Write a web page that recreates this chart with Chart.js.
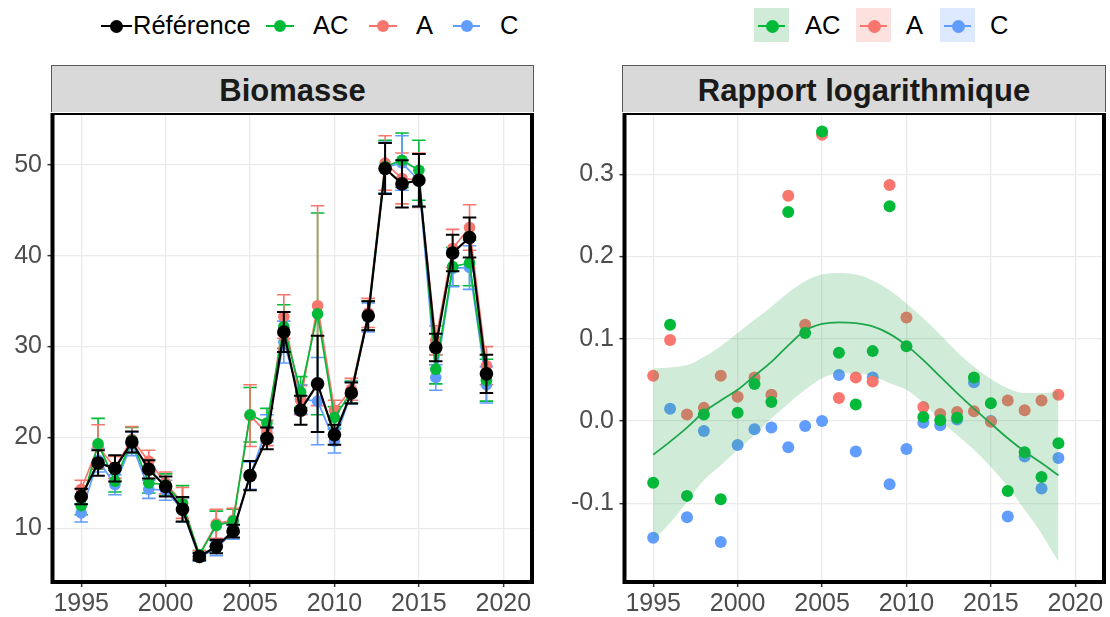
<!DOCTYPE html>
<html>
<head>
<meta charset="utf-8">
<script src="https://cdn.jsdelivr.net/npm/chart.js@4.4.1/dist/chart.umd.min.js"></script>
<style>
  html, body { margin: 0; padding: 0; background: #fff; width: 1110px; height: 617px; overflow: hidden;
    font-family: "Liberation Sans", Arial, Helvetica, sans-serif; }
  canvas { position: absolute; }
  .strip { position: absolute; top: 65px; height: 47px; background: #d9d9d9; border: 1.5px solid #595959;
    border-bottom: none; box-sizing: border-box; }
  .strip span { position: absolute; left: 0; right: 0; top: 9px; text-align: center; font-weight: bold;
    font-size: 31px; line-height: 31px; color: #1a1a1a; }
  .lt { position: absolute; top: 12px; font-size: 25.5px; line-height: 26px; color: #000; white-space: nowrap; }
  .ln { position: absolute; height: 2px; top: 25px; }
  .dot { position: absolute; border-radius: 50%; }
  .box { position: absolute; top: 8px; width: 35px; height: 34px; }
</style>
</head>
<body>
<!-- top-left legend -->
<div class="ln" style="left:101px;width:31px;background:#000"></div>
<div class="dot" style="left:110px;top:19.5px;width:13px;height:13px;background:#000"></div>
<div class="lt" style="left:133px">Référence</div>
<div class="ln" style="left:266px;width:28px;background:#00BA38"></div>
<div class="dot" style="left:274px;top:20px;width:12px;height:12px;background:#00BA38"></div>
<div class="lt" style="left:313px">AC</div>
<div class="ln" style="left:369px;width:28px;background:#F8766D"></div>
<div class="dot" style="left:377px;top:20px;width:12px;height:12px;background:#F8766D"></div>
<div class="lt" style="left:416px">A</div>
<div class="ln" style="left:453px;width:27px;background:#619CFF"></div>
<div class="dot" style="left:460.5px;top:20px;width:12px;height:12px;background:#619CFF"></div>
<div class="lt" style="left:500px">C</div>

<!-- top-right legend -->
<div class="box" style="left:754px;background:rgba(40,170,80,0.22)"></div>
<div class="ln" style="left:758px;width:27px;background:#00BA38"></div>
<div class="dot" style="left:765.5px;top:19.5px;width:13px;height:13px;background:#00BA38"></div>
<div class="lt" style="left:805px">AC</div>
<div class="box" style="left:856px;background:rgba(248,118,109,0.22)"></div>
<div class="ln" style="left:860px;width:27px;background:#F8766D"></div>
<div class="dot" style="left:867.5px;top:19.5px;width:13px;height:13px;background:#F8766D"></div>
<div class="lt" style="left:906px">A</div>
<div class="box" style="left:940px;background:rgba(97,156,255,0.22)"></div>
<div class="ln" style="left:944px;width:27px;background:#619CFF"></div>
<div class="dot" style="left:951.5px;top:19.5px;width:13px;height:13px;background:#619CFF"></div>
<div class="lt" style="left:990px">C</div>

<div class="strip" style="left:51px;width:483px"><span>Biomasse</span></div>
<div class="strip" style="left:622px;width:484px"><span>Rapport logarithmique</span></div>

<canvas id="bio" width="540" height="504" style="left:0;top:113px;width:540px;height:504px"></canvas>
<canvas id="ratio" width="540" height="504" style="left:570px;top:113px;width:540px;height:504px"></canvas>

<script>
// ---- data ----
const years = [1995,1996,1997,1998,1999,2000,2001,2002,2003,2004,2005,2006,2007,
               2008,2009,2010,2011,2012,2013,2014,2015,2016,2017,2018,2019];
const xTicks = [1995, 2000, 2005, 2010, 2015, 2020];
const bioTicks = [10, 20, 30, 40, 50];
const ratioTicks = [-0.1, 0.0, 0.1, 0.2, 0.3];

// Biomass estimates and half-widths of their intervals
const refBio = [13.5,17.2,16.6,19.5,16.5,14.6,12.1,6.9,8.0,9.7,15.8,19.9,31.6,23.0,25.9,20.3,24.9,33.4,49.6,47.9,48.3,29.9,40.3,42.0,27.0];
const refErr = [0.85,1.4,1.45,1.15,1.0,1.1,1.35,0.4,0.75,0.7,1.6,1.2,2.2,1.6,5.3,1.1,1.15,1.6,2.8,2.6,2.9,1.5,2.0,2.2,2.1];
const acBio  = [12.5,19.3,15.2,19.7,15.0,14.8,12.7,7.1,10.3,10.8,22.5,21.6,32.2,25.0,33.6,22.2,25.0,33.4,49.8,50.5,49.4,27.5,38.8,39.2,26.3];
const acErr  = [1.0,2.8,1.2,1.4,1.1,1.2,2.0,0.45,1.6,1.3,3.0,1.6,2.4,1.7,11.1,1.2,1.2,1.6,2.9,3.0,3.3,1.6,2.1,2.5,2.3];
const aBio   = [14.3,19.0,16.7,19.8,17.4,15.0,12.8,7.1,10.5,10.9,22.4,20.5,33.3,24.1,34.5,23.0,25.3,33.7,50.2,48.5,48.3,30.7,40.8,43.1,27.9];
const aErr   = [1.0,2.4,1.2,1.4,1.2,1.2,1.7,0.45,1.6,1.3,3.4,1.4,2.4,1.6,11.0,1.1,1.2,1.6,3.0,2.8,3.0,1.6,2.1,2.5,2.1];
const cBio   = [11.7,17.5,14.8,19.3,14.3,14.2,12.0,6.8,7.8,9.6,15.8,21.0,30.5,24.2,24.0,19.6,24.9,33.2,49.7,50.2,48.3,26.6,38.6,38.7,25.8];
const cErr   = [1.0,1.3,1.1,1.3,1.0,1.1,1.3,0.4,0.8,0.8,1.5,1.5,2.3,1.6,4.8,1.3,1.2,1.6,2.8,3.0,2.9,1.4,2.0,2.4,2.0];

// Log ratios against the reference run
const acRatio = [-0.075,0.117,-0.091,0.008,-0.095,0.010,0.045,0.023,0.254,0.107,0.352,0.083,0.020,0.085,0.261,0.091,0.005,0.001,0.004,0.053,0.0215,-0.085,-0.038,-0.068,-0.027];
const aRatio  = [0.055,0.0985,0.008,0.016,0.055,0.0295,0.053,0.032,0.274,0.117,0.348,0.028,0.053,0.048,0.287,0.126,0.017,0.0085,0.011,0.012,-0.001,0.025,0.013,0.025,0.032];
const cRatio  = [-0.142,0.015,-0.117,-0.012,-0.147,-0.029,-0.010,-0.008,-0.032,-0.006,0.0,0.056,-0.037,0.053,-0.077,-0.034,-0.002,-0.005,0.002,0.047,0.0,-0.116,-0.043,-0.082,-0.045];

// Smoothed trend of the AC ratios with its confidence band
const fitMid   = [-0.041,-0.025,-0.008,0.011,0.025,0.038,0.055,0.072,0.092,0.110,0.118,0.120,0.119,0.115,0.106,0.092,0.074,0.054,0.034,0.015,-0.003,-0.021,-0.037,-0.051,-0.066];
const fitUpper = [0.064,0.065,0.068,0.078,0.091,0.107,0.123,0.139,0.156,0.170,0.178,0.180,0.178,0.171,0.159,0.143,0.125,0.105,0.084,0.066,0.051,0.040,0.034,0.034,0.036];
const fitLower = [-0.145,-0.124,-0.098,-0.072,-0.054,-0.035,-0.017,0.003,0.021,0.038,0.052,0.058,0.058,0.054,0.046,0.038,0.022,0.001,-0.017,-0.035,-0.056,-0.080,-0.108,-0.137,-0.171];

// ---- styling ----
const GREEN = '#00BA38', RED = '#F8766D', BLUE = '#619CFF';
const FONT = '"Liberation Sans", Arial, Helvetica, sans-serif';
const CAP_YEARS = 0.8;

const xy = vals => years.map((x, i) => ({ x, y: vals[i] }));

function drawBars(chart, ds) {
  const { ctx, chartArea, scales: { x, y } } = chart;
  ctx.save();
  ctx.beginPath();
  ctx.rect(chartArea.left, chartArea.top, chartArea.right - chartArea.left, chartArea.bottom - chartArea.top);
  ctx.clip();
  ctx.strokeStyle = ds.borderColor;
  ctx.lineWidth = ds.errLine;
  ds.data.forEach((p, i) => {
    const e = ds.errors[i];
    const px = x.getPixelForValue(p.x);
    const hw = x.getPixelForValue(p.x + CAP_YEARS / 2) - px;
    const yTop = y.getPixelForValue(p.y + e), yBot = y.getPixelForValue(p.y - e);
    ctx.beginPath();
    ctx.moveTo(px, yTop); ctx.lineTo(px, yBot);
    ctx.moveTo(px - hw, yTop); ctx.lineTo(px + hw, yTop);
    ctx.moveTo(px - hw, yBot); ctx.lineTo(px + hw, yBot);
    ctx.stroke();
  });
  ctx.restore();
}

// interval bars: the scenario runs go under all lines (AC, then A, then C),
// the reference bars sit right under the reference series
const errorBars = {
  id: 'errorBars',
  beforeDatasetsDraw(chart) {
    chart.data.datasets.filter(ds => ds.errors && ds.barLayer === 'under').forEach(ds => drawBars(chart, ds));
  },
  beforeDatasetDraw(chart, args) {
    const ds = chart.data.datasets[args.index];
    if (ds.errors && ds.barLayer === 'own') drawBars(chart, ds);
  }
};

// thick panel frame
const panelFrame = {
  id: 'panelFrame',
  afterDraw(chart) {
    const { ctx, chartArea: a } = chart;
    ctx.save();
    ctx.strokeStyle = '#000';
    ctx.lineWidth = 4;
    ctx.strokeRect(a.left, a.top, a.right - a.left, a.bottom - a.top);
    ctx.restore();
  }
};

function axes(yMin, yMax, yTickVals, yFmt, yWidth) {
  const grid = { color: '#ebebeb', lineWidth: 1.3, tickColor: '#333', tickLength: 5, tickWidth: 1.5 };
  return {
    x: {
      type: 'linear', min: 1993.3, max: 2021.7,
      afterBuildTicks: s => { s.ticks = xTicks.map(v => ({ value: v })); },
      afterFit: s => { s.height = 35; s.paddingLeft = 0; s.paddingRight = 0; },
      ticks: { font: { family: FONT, size: 25 }, color: '#4d4d4d', padding: 2, maxRotation: 0, autoSkip: false,
               callback: v => String(v) },
      grid, border: { display: false }
    },
    y: {
      type: 'linear', min: yMin, max: yMax,
      afterBuildTicks: s => { s.ticks = yTickVals.map(v => ({ value: v })); },
      afterFit: s => { s.width = yWidth; s.paddingTop = 0; s.paddingBottom = 0; },
      ticks: { font: { family: FONT, size: 25 }, color: '#4d4d4d', padding: 5.5, autoSkip: false, callback: yFmt },
      grid, border: { display: false }
    }
  };
}

const common = {
  responsive: false, animation: false, devicePixelRatio: 1,
  plugins: { legend: { display: false }, tooltip: { enabled: false } },
  events: []
};

// Biomass panel
new Chart(document.getElementById('bio'), {
  type: 'line',
  data: {
    datasets: [
      { label: 'Référence', data: xy(refBio), errors: refErr, barLayer: 'own', errLine: 2, borderColor: '#000',
        backgroundColor: '#000', borderWidth: 2.2, pointRadius: 6.8, pointBorderWidth: 0 },
      { label: 'AC', data: xy(acBio), errors: acErr, barLayer: 'under', errLine: 1.6, borderColor: GREEN,
        backgroundColor: GREEN, borderWidth: 1.7, pointRadius: 5.8, pointBorderWidth: 0 },
      { label: 'A', data: xy(aBio), errors: aErr, barLayer: 'under', errLine: 1.6, borderColor: RED,
        backgroundColor: RED, borderWidth: 1.7, pointRadius: 5.8, pointBorderWidth: 0 },
      { label: 'C', data: xy(cBio), errors: cErr, barLayer: 'under', errLine: 1.6, borderColor: BLUE,
        backgroundColor: BLUE, borderWidth: 1.7, pointRadius: 5.8, pointBorderWidth: 0 }
    ]
  },
  options: Object.assign({}, common, {
    layout: { autoPadding: false, padding: { left: 0, right: 8, top: 0, bottom: 0 } },
    scales: axes(4.1, 55.7, bioTicks, v => String(v), 52.5)
  }),
  plugins: [errorBars, panelFrame]
});

// Log-ratio panel
new Chart(document.getElementById('ratio'), {
  type: 'line',
  data: {
    datasets: [
      { label: 'trend', data: xy(fitMid), borderColor: '#1ea64a', borderWidth: 1.8, pointRadius: 0,
        cubicInterpolationMode: 'monotone', fill: false },
      { label: 'band', data: xy(fitUpper), borderWidth: 0, pointRadius: 0, cubicInterpolationMode: 'monotone',
        backgroundColor: 'rgba(40,170,80,0.22)', fill: '+1' },
      { label: 'bandLow', data: xy(fitLower), borderWidth: 0, pointRadius: 0, cubicInterpolationMode: 'monotone',
        fill: false },
      { label: 'AC', data: xy(acRatio), showLine: false, backgroundColor: GREEN, pointRadius: 6, pointBorderWidth: 0 },
      { label: 'A', data: xy(aRatio), showLine: false, backgroundColor: RED, pointRadius: 6, pointBorderWidth: 0 },
      { label: 'C', data: xy(cRatio), showLine: false, backgroundColor: BLUE, pointRadius: 6, pointBorderWidth: 0 }
    ]
  },
  options: Object.assign({}, common, {
    layout: { autoPadding: false, padding: { left: 0, right: 6, top: 0, bottom: 0 } },
    scales: axes(-0.1957, 0.3745, ratioTicks, v => v.toFixed(1), 54.5)
  }),
  plugins: [panelFrame]
});
</script>
</body>
</html>
